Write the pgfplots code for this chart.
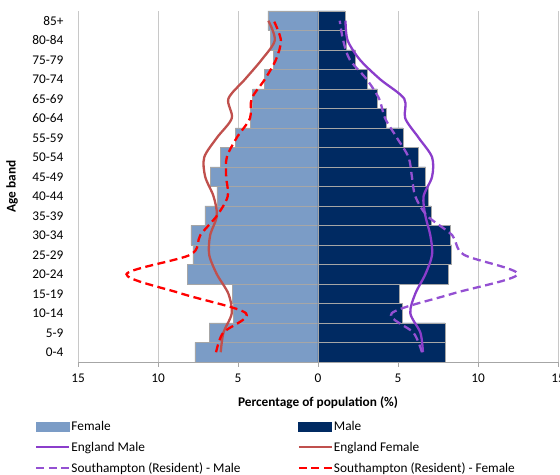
\documentclass[border=0pt]{standalone}
\usepackage{pgfplots}
\pgfplotsset{compat=1.18}
\usepackage{fontspec}
\setmainfont{Carlito}
\definecolor{fem}{HTML}{7B9CC6}
\definecolor{mal}{HTML}{002A62}
\definecolor{engm}{HTML}{8B3DCB}
\definecolor{engf}{HTML}{C0504D}
\definecolor{sotm}{HTML}{9450D2}
\definecolor{sotf}{HTML}{FF0000}
\definecolor{gridc}{HTML}{C8C8C8}
\definecolor{barb}{HTML}{A6A6A6}

% index: 0 = 0-4 ... 17 = 85+
\pgfplotstableread{
idx female male engm engf sotm sotf
0  -7.69 7.95 6.56 -6.08 6.50 -6.37
1  -6.80 7.95 6.40 -5.91 5.97 -5.93
2  -5.29 5.25 5.77 -5.39 4.61 -4.50
3  -5.35 5.06 6.08 -5.60 8.40 -8.50
4  -8.15 8.16 6.71 -6.32 12.48 -11.97
5  -7.82 8.35 7.13 -6.80 9.12 -7.98
6  -7.94 8.28 7.02 -6.74 8.39 -7.36
7  -7.07 7.07 6.71 -6.32 6.82 -6.32
8  -6.32 6.92 6.60 -6.53 6.08 -5.64
9  -6.74 6.73 7.13 -7.05 5.87 -5.74
10 -6.10 6.25 7.13 -7.11 5.66 -5.70
11 -5.16 5.31 6.29 -6.32 4.93 -5.08
12 -4.20 4.30 5.45 -5.39 4.19 -4.25
13 -4.08 3.71 5.39 -5.60 3.82 -4.15
14 -3.36 3.08 3.88 -4.56 3.04 -3.32
15 -2.76 2.33 2.62 -3.52 1.99 -2.63
16 -2.96 1.80 1.85 -2.70 1.57 -2.32
17 -3.13 1.68 1.72 -3.10 1.36 -2.76
}\pyramid

\begin{document}
\begin{tikzpicture}
\begin{axis}[
  name=ax, at={(0,0)}, anchor=south west,
  scale only axis, width=480pt, height=351pt,
  xmin=-15, xmax=15, ymin=-0.5, ymax=17.5,
  axis x line*=bottom, axis y line*=left,
  y axis line style={draw=none},
  x axis line style={draw=gray!70, line width=0.8pt},
  xtick={-15,-10,-5,0,5,10,15},
  xticklabels={15,10,5,0,5,10,15},
  ytick={0,...,17},
  yticklabels={0-4,5-9,10-14,15-19,20-24,25-29,30-34,35-39,40-44,45-49,50-54,55-59,60-64,65-69,70-74,75-79,80-84,85+},
  ytick style={draw=none},
  xtick style={draw=gray!70, line width=0.8pt},
  tick align=outside, major tick length=5pt,
  xmajorgrids, grid style={gridc, line width=0.8pt},
  tick label style={font=\fontsize{13.3}{16}\selectfont},
  yticklabel style={xshift=-6pt},
  xticklabel style={yshift=-3pt},
  xlabel={\bfseries Percentage of population (\%)},
  xlabel style={font=\fontsize{13.3}{16}\selectfont, at={(axis description cs:0.5,-0.116)}, anchor=center},
  ylabel={\bfseries Age band},
  ylabel style={font=\fontsize{13.3}{16}\selectfont, at={(axis description cs:-0.1375,0.5)}, anchor=center},
  legend columns=2,
  legend cell align=left,
  legend style={at={(axis description cs:-0.0896,-0.165)}, anchor=north west,
    draw=none, fill=none, inner sep=0pt, row sep=8pt,
    font=\fontsize{13.3}{16}\selectfont,
    nodes={inner sep=1pt},
    /tikz/every even column/.append style={column sep=56pt}},
  legend image code/.code={\draw[#1] (0pt,0pt) -- (33pt,0pt);},
]
\addplot[xbar, bar width=1, bar shift=0pt, fill=fem, draw=barb, line width=0.7pt,
  legend image code/.code={\fill[fem] (0pt,-4.5pt) rectangle (33pt,4.5pt);}]
  table[x=female, y=idx] {\pyramid};
\addlegendentry{Female}
\addplot[xbar, bar width=1, bar shift=0pt, fill=mal, draw=barb, line width=0.7pt,
  legend image code/.code={\fill[mal] (0pt,-4.5pt) rectangle (33pt,4.5pt);}]
  table[x=male, y=idx] {\pyramid};
\addlegendentry{Male}
\addplot[engm, line width=2.3pt, smooth, tension=0.5] table[x=engm, y=idx] {\pyramid};
\addlegendentry{England Male}
\addplot[engf, line width=2.3pt, smooth, tension=0.5] table[x=engf, y=idx] {\pyramid};
\addlegendentry{England Female}
\addplot[sotm, line width=2.3pt, smooth, tension=0.5, dash pattern=on 8pt off 4.5pt] table[x=sotm, y=idx] {\pyramid};
\addlegendentry{Southampton (Resident) - Male}
\addplot[sotf, line width=2.3pt, smooth, tension=0.5, dash pattern=on 8pt off 4.5pt] table[x=sotf, y=idx] {\pyramid};
\addlegendentry{Southampton (Resident) - Female}
\end{axis}
\pgfresetboundingbox
\path[use as bounding box] ([xshift=-78pt,yshift=-113pt]ax.south west) rectangle ([xshift=2pt,yshift=11pt]ax.north east);
\end{tikzpicture}
\end{document}
